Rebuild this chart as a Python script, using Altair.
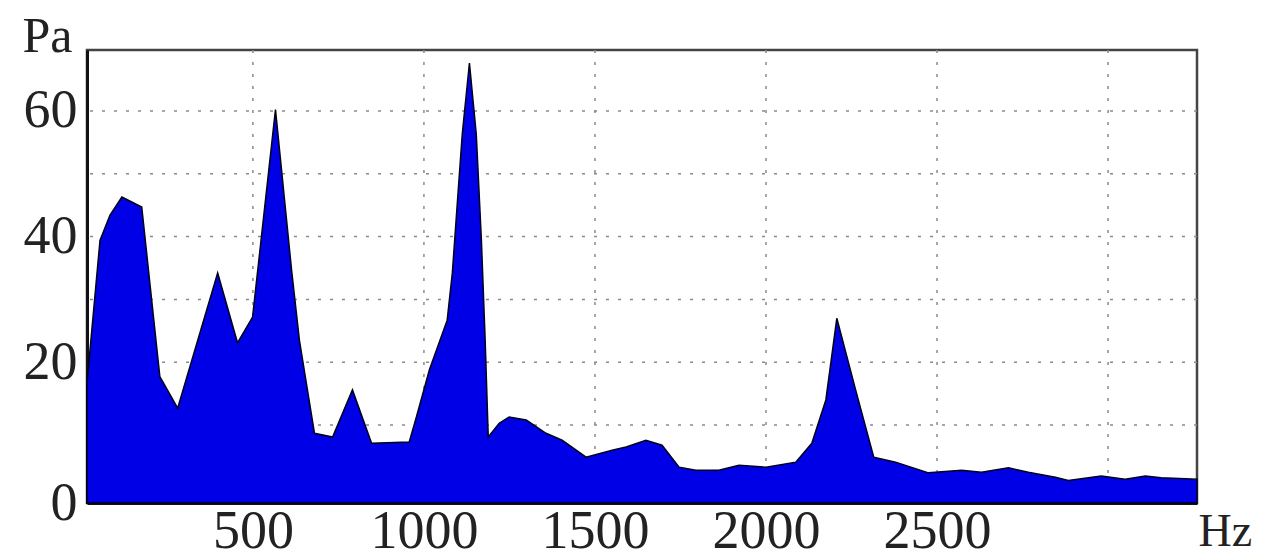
import altair as alt
import pandas as pd

# Spectrum
freq_hz = [15, 53, 82, 117, 175, 228, 280, 397, 455, 499, 566, 613, 636, 680, 733, 791, 847,
           957, 978, 1016, 1068, 1083, 1112, 1133, 1153, 1168, 1179, 1188, 1220, 1249, 1299,
           1357, 1404, 1474, 1550, 1591, 1649, 1696, 1746, 1795, 1862, 1921, 2000, 2087, 2134,
           2175, 2207, 2262, 2315, 2379, 2475, 2572, 2630, 2709, 2767, 2846, 2884, 2980, 3050,
           3109, 3155, 3260]
pressure_pa = [16.7, 39.4, 43.4, 46.3, 44.7, 17.7, 12.7, 34.2, 23.1, 27.2, 60.2, 34.7, 23.5,
               8.7, 8.1, 15.6, 7.1, 7.3, 11.3, 18.8, 26.7, 34.2, 56.3, 67.6, 56.3, 39.4, 23.5,
               8.1, 10.3, 11.3, 10.8, 8.7, 7.6, 4.9, 6.0, 6.5, 7.6, 6.8, 3.3, 2.8, 2.8, 3.6,
               3.3, 4.1, 7.1, 14.0, 27.0, 15.6, 4.9, 4.1, 2.4, 2.8, 2.5, 3.2, 2.5, 1.7, 1.2,
               1.9, 1.4, 1.9, 1.6, 1.4]

x_ticks = [500, 1000, 1500, 2000, 2500]
x_grid = [500, 1000, 1500, 2000, 2500, 3000]
y_grid = [10, 20, 30, 40, 50, 60]
y_ticks = [-2.4, 20, 40, 60]

X_DOMAIN = [15, 3260]
Y_DOMAIN = [-2.4, 69.7]

FONT = "Liberation Serif"

df = pd.DataFrame({"f": freq_hz, "p": pressure_pa})
gx = pd.DataFrame({"f": x_grid})
gy = pd.DataFrame({"p": y_grid})

xs = alt.Scale(domain=X_DOMAIN, nice=False, zero=False)
ys = alt.Scale(domain=Y_DOMAIN, nice=False, zero=False)

xa = alt.Axis(values=x_ticks, grid=False, ticks=False, domain=True, format="d",
              domainColor="#111", domainWidth=3,
              labelFont=FONT, labelFontSize=54, labelColor="#222",
              labelPadding=1, labelBaseline="top", labelFlush=False,
              title="Hz", titleFont=FONT, titleFontSize=46,
              titleFontWeight="normal", titleColor="#222",
              titleX=1111, titleY=42, titleAlign="left",
              titleBaseline="alphabetic", titleAnchor="start")
ya = alt.Axis(values=y_ticks, grid=False, ticks=False, domain=True,
              labelExpr="datum.value < 0 ? '0' : datum.label",
              domainColor="#111", domainWidth=3,
              labelFont=FONT, labelFontSize=54, labelColor="#222",
              labelPadding=10, labelBaseline="middle", labelFlush=False,
              title="Pa", titleFont=FONT, titleFontSize=50,
              titleFontWeight="normal", titleColor="#222", titleAngle=0,
              titleX=-65, titleY=1, titleAlign="left",
              titleBaseline="alphabetic")

grid_style = dict(color="#8a8a8a", strokeWidth=1.5, strokeDash=[3, 9])

vgrid = alt.Chart(gx).mark_rule(**grid_style).encode(
    x=alt.X("f:Q", scale=xs, axis=xa))
hgrid = alt.Chart(gy).mark_rule(**grid_style).encode(
    y=alt.Y("p:Q", scale=ys, axis=ya))

area = alt.Chart(df).mark_area(
    fill="#0000e6", stroke="#000018", strokeWidth=1.5, interpolate="linear"
).encode(
    x=alt.X("f:Q", scale=xs, axis=xa),
    y=alt.Y("p:Q", scale=ys, axis=ya),
    y2=alt.datum(Y_DOMAIN[0]),
)

chart = alt.layer(vgrid, hgrid, area).properties(
    width=1110, height=453,
    background="white",
    autosize=alt.AutoSizeParams(type="none"),
    padding={"left": 79, "top": 42, "right": 56, "bottom": 56},
).configure_view(stroke="#444", strokeWidth=2.5)

chart.save("out.html", embed_options={"renderer": "svg", "actions": False})
